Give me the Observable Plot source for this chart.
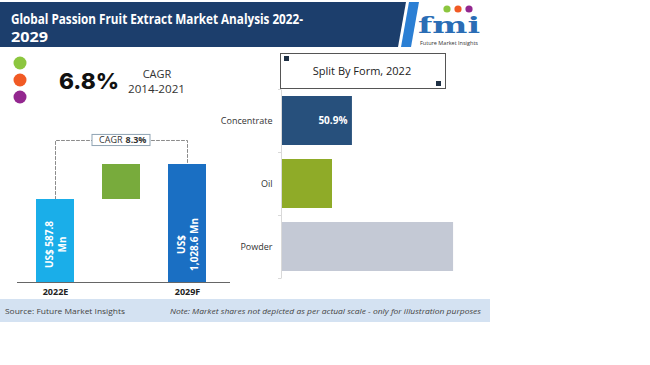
<!DOCTYPE html>
<html><head><meta charset="utf-8">
<script src="https://cdn.jsdelivr.net/npm/d3@7"></script>
<script src="https://cdn.jsdelivr.net/npm/@observablehq/plot@0.6"></script>
<style>
body{margin:0;background:#fff;}
#root{position:relative;width:650px;height:365px;overflow:hidden;font-family:"Open Sans",sans-serif;}
.abs{position:absolute;}
svg{display:block;}
</style></head><body><div id="root"></div>
<script>
// ---- data ----
const titleLines = ["Global Passion Fruit Extract Market Analysis 2022-", "2029"];
const headlineValue = "6.8%";
const headlineLabel = ["CAGR", "2014-2021"];
const years = ["2022E", "2029F"];
const marketValue = [587.8, 1028.6];
const marketLabel = ["US$ 587.8\nMn", "US$\n1,028.6 Mn"];
const cagrLabel = ["CAGR", "8.3%"];
const forms = ["Concentrate", "Oil", "Powder"];
const formBar = [50.9, 36.6, 123.5]; // illustrative lengths (not to actual scale)
const formLabel = ["50.9%", "", ""];
const splitTitle = "Split By Form, 2022";
const sourceText = "Source: Future Market Insights";
const noteText = "Note: Market shares not depicted as per actual scale - only for illustration purposes";

// ---- styles ----
const barColors = ["#1aaee9", "#78ab3c", "#1a6fc3"];
const formColors = ["#27507c", "#8fab28", "#c4c9d5"];
const dotColors = ["#8cc63f", "#f15a24", "#93278f"];

const root = d3.select("#root");
const svg = root.append("svg").attr("class", "abs").style("left", "0px").style("top", "0px")
  .attr("width", 650).attr("height", 365);

// banner
svg.append("polygon").attr("points", "0,2 406,2 398,47 0,47").attr("fill", "#1c3e6c");
svg.append("polygon").attr("points", "409,2 419,2 411,47 401,47").attr("fill", "#2b7fd4");
svg.append("text").attr("x", 11).attr("y", 24).text(titleLines[0])
  .attr("fill", "#fff").attr("font-weight", "bold").attr("font-size", 15)
  .attr("textLength", 292).attr("lengthAdjust", "spacingAndGlyphs");
svg.append("text").attr("x", 11).attr("y", 42).text(titleLines[1])
  .attr("fill", "#fff").attr("font-weight", "bold").attr("font-size", 15)
  .attr("textLength", 37).attr("lengthAdjust", "spacingAndGlyphs");
// logo
[447, 458, 469].forEach((cx, i) => svg.append("circle").attr("cx", cx).attr("cy", 9).attr("r", 3.6).attr("fill", dotColors[i]));
svg.append("text").attr("x", 418).attr("y", 33).text("fmi").attr("fill", "#2a6db5")
  .attr("font-family", "DejaVu Serif").attr("font-weight", "bold").attr("font-size", 22)
  .attr("textLength", 62).attr("lengthAdjust", "spacingAndGlyphs");
svg.append("text").attr("x", 420).attr("y", 44.5).text("Future Market Insights").attr("fill", "#333")
  .attr("font-size", 5.5).attr("textLength", 58).attr("lengthAdjust", "spacingAndGlyphs");

// headline
[63, 80, 97].forEach((cy, i) => svg.append("circle").attr("cx", 20).attr("cy", cy).attr("r", 6.5).attr("fill", dotColors[i]));
svg.append("text").attr("x", 59).attr("y", 89).text(headlineValue).attr("fill", "#111")
  .attr("font-family", "Inter").attr("font-weight", 800).attr("font-size", 22)
  .attr("textLength", 60).attr("lengthAdjust", "spacingAndGlyphs");
svg.append("text").attr("x", 157).attr("y", 78).text(headlineLabel[0]).attr("fill", "#333")
  .attr("font-size", 11).attr("text-anchor", "middle");
svg.append("text").attr("x", 128).attr("y", 93).text(headlineLabel[1]).attr("fill", "#333")
  .attr("font-size", 11).attr("textLength", 57).attr("lengthAdjust", "spacingAndGlyphs");

// split box
svg.append("rect").attr("x", 280.5).attr("y", 53.5).attr("width", 165).attr("height", 35)
  .attr("fill", "#fff").attr("stroke", "#555");
svg.append("rect").attr("x", 284).attr("y", 56).attr("width", 5).attr("height", 5).attr("fill", "#1f3044");
svg.append("rect").attr("x", 436).attr("y", 81).attr("width", 5).attr("height", 5).attr("fill", "#1f3044");
svg.append("text").attr("x", 362).attr("y", 75).text(splitTitle).attr("fill", "#222")
  .attr("font-size", 11).attr("text-anchor", "middle");

// footer
svg.append("rect").attr("x", 0).attr("y", 299).attr("width", 490).attr("height", 23).attr("fill", "#d4e2f2");
svg.append("text").attr("x", 5).attr("y", 313.5).text(sourceText).attr("fill", "#444")
  .attr("font-size", 7.5).attr("textLength", 120).attr("lengthAdjust", "spacingAndGlyphs");
svg.append("text").attr("x", 170).attr("y", 313.5).text(noteText).attr("fill", "#444")
  .attr("font-size", 7.5).attr("font-style", "italic").attr("textLength", 311).attr("lengthAdjust", "spacingAndGlyphs");

// ---- left chart (waterfall) ----
const yDom = [-457.5, 1519.8];
const connectorTop = 1331;
const waterfall = [
  {x: years[0], y1: yDom[0], y2: marketValue[0], c: barColors[0]},
  {x: "gap", y1: marketValue[0], y2: marketValue[1], c: barColors[1]},
  {x: years[1], y1: yDom[0], y2: marketValue[1], c: barColors[2]}
];
const connector = [
  {x: years[0], y: marketValue[0]}, {x: years[0], y: connectorTop},
  {x: years[1], y: connectorTop}, {x: years[1], y: marketValue[1]}
];
const labels = years.map((x, i) => ({x, t: marketLabel[i]}));
const leftPlot = Plot.plot({
  width: 240, height: 180, marginLeft: 21, marginRight: 20, marginTop: 0, marginBottom: 23,
  style: {fontFamily: "Open Sans", fontSize: "9px", fontWeight: "bold", background: "transparent", color: "#222", overflow: "visible"},
  x: {type: "band", domain: [years[0], "gap", years[1]], paddingInner: 0.43, paddingOuter: 0.215,
      tickSize: 0, tickPadding: 6, tickFormat: d => d === "gap" ? "" : d, label: null},
  y: {domain: yDom, axis: null},
  color: {type: "identity"},
  marks: [
    Plot.line(connector, {x: "x", y: "y", stroke: "#8a8a8a", strokeDasharray: "3,2", strokeWidth: 1}),
    Plot.barY(waterfall, {x: "x", y1: "y1", y2: "y2", fill: "c"}),
    Plot.ruleY([yDom[0]], {stroke: "#666", insetLeft: -4, insetRight: -10}),
    Plot.barY([{x: "gap", y1: connectorTop - 70, y2: connectorTop + 70}], {x: "x", y1: "y1", y2: "y2", fill: "#fff", stroke: "#8fa3b3", strokeWidth: 1, insetLeft: -10, insetRight: -10}),
    Plot.text([cagrLabel[0]], {x: () => "gap", y: () => connectorTop, text: d => d, textAnchor: "end", dx: 1, fontWeight: "normal", fontSize: 9, fill: "#333"}),
    Plot.text([cagrLabel[1]], {x: () => "gap", y: () => connectorTop, text: d => d, textAnchor: "start", dx: 4, fontWeight: "bold", fontSize: 9, fill: "#333"}),
    Plot.text(labels, {x: "x", text: "t", frameAnchor: "bottom", dy: -38, rotate: -90, fill: "#fff", fontSize: 10, fontWeight: "bold", lineAnchor: "middle", lineHeight: 1.3})
  ]
});
root.append("div").attr("class", "abs").style("left", "0px").style("top", "125px").node().append(leftPlot);

// ---- right chart ----
const formData = forms.map((f, i) => ({form: f, v: formBar[i], c: formColors[i], l: formLabel[i]}));
const rightPlot = Plot.plot({
  width: 300, height: 200, marginLeft: 81, marginRight: 10, marginTop: 4.5, marginBottom: 6.5,
  style: {fontFamily: "Open Sans", fontSize: "9px", background: "transparent", color: "#333", overflow: "visible"},
  x: {domain: [0, 150], axis: null},
  y: {type: "band", domain: forms, paddingInner: 0.222, paddingOuter: 0.111, tickSize: 0, tickPadding: 9, label: null},
  color: {type: "identity"},
  marks: [
    Plot.barX(formData, {y: "form", x: "v", fill: "c"}),
    Plot.ruleX([0], {stroke: "#d9d9d9"}),
    Plot.ruleY(forms, {y: d => d, x1: 0, x2: 0, insetLeft: -3, dy: -31.5, stroke: "#d9d9d9"}),
    Plot.ruleY([forms[forms.length - 1]], {y: d => d, x1: 0, x2: 0, insetLeft: -3, dy: 31.5, stroke: "#d9d9d9"}),
    Plot.text(formData, {y: "form", x: "v", text: "l", textAnchor: "end", dx: -5, fill: "#fff", fontWeight: "bold", fontSize: 10})
  ]
});
root.append("div").attr("class", "abs").style("left", "200px").style("top", "85px").node().append(rightPlot);
</script></body></html>
